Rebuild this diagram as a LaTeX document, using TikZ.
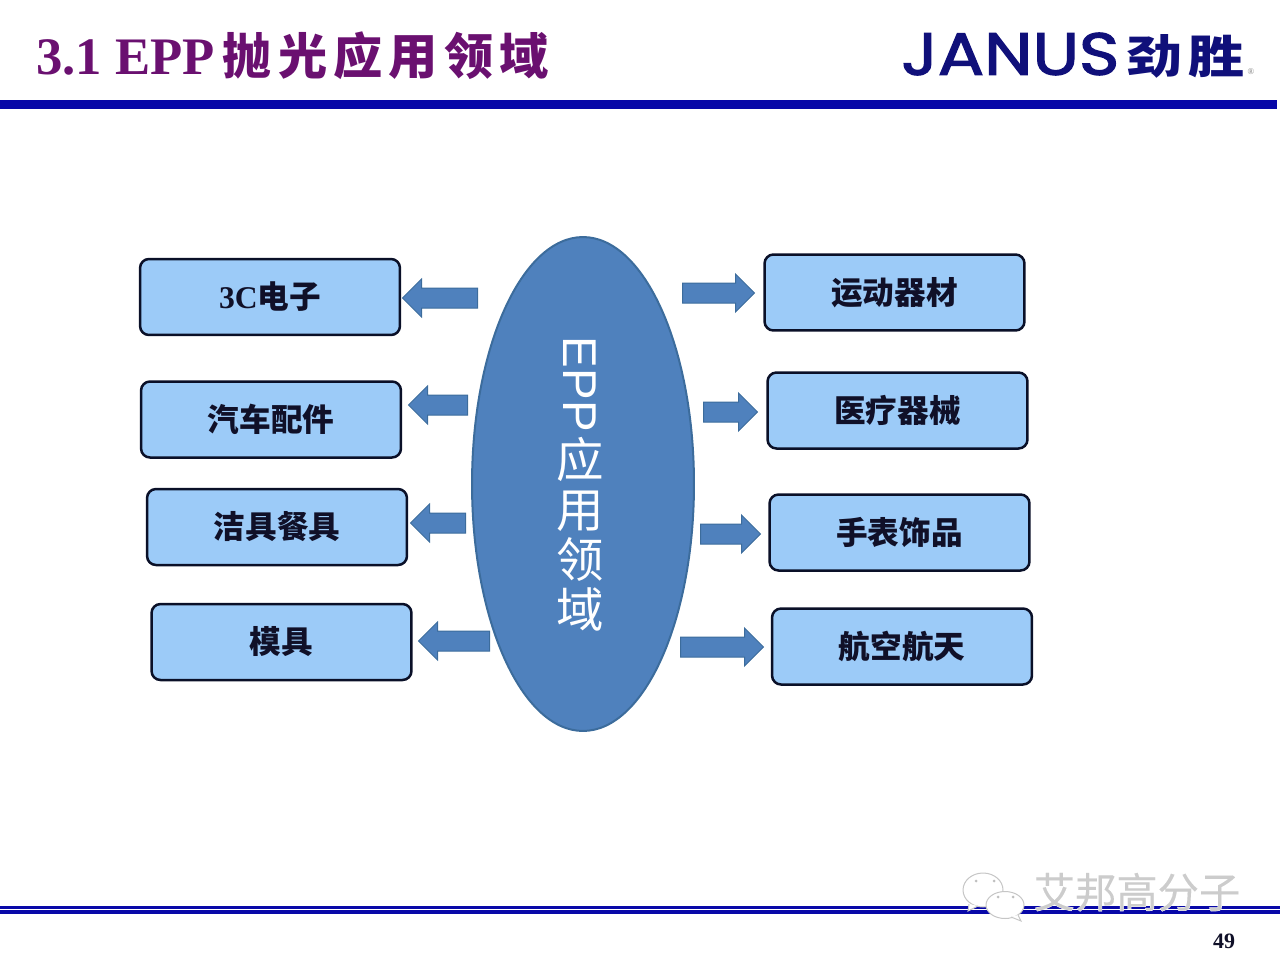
\documentclass[tikz,border=0pt]{standalone}
\usepackage{fontspec}
\setmainfont{Liberation Serif}
\newfontfamily\cjk{Noto Sans CJK SC}
\usetikzlibrary{shapes.geometric,shapes.arrows}
\definecolor{titlepurple}{HTML}{6A1070}
\definecolor{barblue}{HTML}{0808A8}
\definecolor{logoblue}{HTML}{10107A}
\definecolor{boxblue}{HTML}{9CCBF8}
\definecolor{boxline}{HTML}{0A1028}
\definecolor{ovalblue}{HTML}{4F81BD}
\definecolor{ovalline}{HTML}{3C6C9C}
\definecolor{inkdark}{HTML}{101028}
\tikzset{
  fieldbox/.style={draw=boxline,line width=0.05cm,fill=boxblue,rounded corners=0.18cm,
    minimum width=5.2cm,minimum height=1.52cm,inner sep=0pt,text=inkdark,
    font=\fontsize{18}{20}\selectfont\bfseries},
  fieldarrow/.style={shape=single arrow,draw=ovalline,line width=0.02cm,fill=ovalblue,
    text height=0.38cm,text depth=0pt,single arrow head extend=0.18cm,inner sep=0pt},
  markicon/.style={draw=gray!45,line width=0.02cm,fill=white}
}
\begin{document}
\begin{tikzpicture}[x=0.02cm,y=-0.02cm]
  \useasboundingbox (0,0) rectangle (1280,960);
  % header
  \fill[barblue] (0,100) rectangle (1277,109);
  \node[anchor=west,inner sep=0pt,text=titlepurple,font=\fontsize{30}{32}\selectfont\bfseries] (title) at (36,56)
    {3.1 EPP{\fontsize{28}{32}\selectfont\cjk\hspace{0.16em}抛\hspace{0.125em}光\hspace{0.125em}应\hspace{0.125em}用\hspace{0.125em}领\hspace{0.125em}域}};
  \node[anchor=west,inner sep=0pt,text=logoblue] (logoname) at (901,54)
    {\resizebox{4.36cm}{0.84cm}{\fontspec{Poppins}[FakeBold=2]JANUS}};
  \node[anchor=west,inner sep=0pt,text=logoblue] (logocn) at (1126,56)
    {\resizebox{2.36cm}{0.78cm}{\cjk\bfseries 劲\hspace{0.1em}胜}};
  \node[inner sep=0pt,text=gray,font=\fontsize{5}{6}\selectfont] (logoreg) at (1251,72) {®};
  % centre
  \node[ellipse,draw=ovalline,line width=0.04cm,fill=ovalblue,minimum width=4.44cm,minimum height=9.88cm,inner sep=0pt] (oval) at (583,484) {};
  \node[inner sep=0pt,text=white,align=center,font=\fontsize{27}{28.5}\selectfont] (ovaltext) at (580,484)
    {\rotatebox{-90}{\fontspec{Liberation Sans}EPP}\\[2pt]{\cjk 应}\\{\cjk 用}\\{\cjk 领}\\{\cjk 域}};
  % left side
  \node[fieldbox] (boxA) at (270,297) {3C{\cjk 电子}};
  \node[fieldbox] (boxB) at (271,419.5) {\cjk 汽车配件};
  \node[fieldbox] (boxC) at (277,527) {\cjk 洁具餐具};
  \node[fieldbox] (boxD) at (281.5,642) {\cjk 模具};
  \node[fieldarrow,minimum height=1.5cm,shape border rotate=180] (arrowA) at (445,298) {};
  \node[fieldarrow,minimum height=1.18cm,shape border rotate=180] (arrowB) at (443,405) {};
  \node[fieldarrow,minimum height=1.1cm,shape border rotate=180] (arrowC) at (443,523) {};
  \node[fieldarrow,minimum height=1.42cm,shape border rotate=180] (arrowD) at (459,641) {};
  % right side
  \node[fieldbox] (boxE) at (894.5,292.5) {\cjk 运动器材};
  \node[fieldbox] (boxF) at (897.5,410.5) {\cjk 医疗器械};
  \node[fieldbox] (boxG) at (899.5,532.5) {\cjk 手表饰品};
  \node[fieldbox] (boxH) at (902,646.5) {\cjk 航空航天};
  \node[fieldarrow,minimum height=1.44cm] (arrowE) at (713.5,293) {};
  \node[fieldarrow,minimum height=1.08cm] (arrowF) at (725.5,412) {};
  \node[fieldarrow,minimum height=1.2cm] (arrowG) at (725.5,534) {};
  \node[fieldarrow,minimum height=1.66cm] (arrowH) at (717,647) {};
  % footer
  \fill[barblue] (0,906) rectangle (1280,909.2);
  \fill[barblue] (0,910.3) rectangle (1280,914);
  \draw[markicon] (983,890) ellipse (20 and 17);
  \draw[markicon] (969,904) -- (968,911) -- (978,906);
  \fill[gray!50] (976,881) circle (1.5) (994,881) circle (1.5);
  \draw[markicon] (1005,905) ellipse (19 and 13.5);
  \draw[markicon] (1011,917) -- (1021,921) -- (1018,915);
  \fill[gray!50] (998,897) circle (1.5) (1013,897) circle (1.5);
  \node[inner sep=0pt,text=white,font=\fontsize{23.5}{26}\selectfont] (markback) at (1137,892)
    {\fontspec{Noto Sans CJK SC}[FakeBold=2]艾邦高分子};
  \node[inner sep=0pt,text=gray!40,font=\fontsize{23.5}{26}\selectfont] (marktext) at (1137,892)
    {\fontspec{Noto Sans CJK SC}[FakeBold=0.2]艾邦高分子};
  \node[inner sep=0pt,text=inkdark,font=\fontsize{12.5}{14}\selectfont\bfseries] (pagenum) at (1224,941) {49};
\end{tikzpicture}
\end{document}
